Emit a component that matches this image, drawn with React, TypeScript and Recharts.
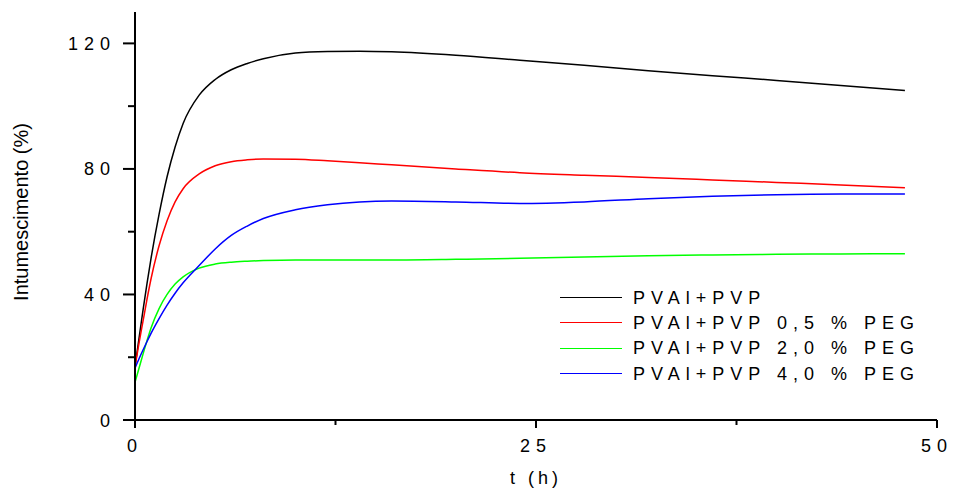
import { LineChart, Line, XAxis, YAxis, Legend } from 'recharts';

const HOURS = [0, 0.25, 0.5, 0.75, 1, 1.5, 2, 2.5, 3, 4, 5, 6, 7, 8, 10, 12, 14, 16, 20, 24, 28, 32, 36, 40, 44, 48];
const PVAL_PVP = [17, 26, 35, 43.5, 51.5, 65.5, 77.5, 87, 94.5, 103.5, 108.5, 111.6, 113.6, 115.1, 116.9, 117.4, 117.5, 117.3, 116.2, 114.6, 113, 111.3, 109.7, 108.2, 106.6, 105];
const PEG_05 = [17, 24.5, 31.5, 38.5, 45, 55.5, 63.5, 69.5, 73.7, 78.4, 81, 82.3, 82.9, 83.2, 83.1, 82.6, 82, 81.3, 80, 78.8, 78, 77.3, 76.5, 75.7, 74.9, 74];
const PEG_20 = [12, 16.5, 21, 25.3, 29.3, 35.5, 40, 43.3, 45.6, 48.4, 49.7, 50.3, 50.6, 50.8, 51, 51, 51, 51, 51.2, 51.5, 51.9, 52.3, 52.6, 52.8, 52.9, 53];
const PEG_40 = [16.5, 19.5, 22.3, 25, 27.6, 32.3, 36.6, 40.4, 43.7, 49.2, 54.5, 58.8, 61.8, 64.2, 67, 68.6, 69.5, 69.8, 69.5, 69, 69.5, 70.5, 71.3, 71.8, 72, 72];

const SERIES = [
  { key: 'pvp', name: 'PVAl+PVP', color: '#000000', values: PVAL_PVP },
  { key: 'peg05', name: 'PVAl+PVP 0,5 % PEG', color: '#ff0000', values: PEG_05 },
  { key: 'peg20', name: 'PVAl+PVP 2,0 % PEG', color: '#00ff00', values: PEG_20 },
  { key: 'peg40', name: 'PVAl+PVP 4,0 % PEG', color: '#0000ff', values: PEG_40 },
];

const X_TICKS = [0, 12.5, 25, 37.5, 50];
const Y_TICKS = [0, 20, 40, 60, 80, 100, 120];

const FONT = '"Liberation Sans", Arial, sans-serif';

const data = HOURS.map((t, i) => {
  const row: Record<string, number> = { t };
  SERIES.forEach(s => { row[s.key] = s.values[i]; });
  return row;
});

const XTick = ({ x, y, payload }: any) => {
  const major = payload.value % 25 === 0;
  return (
    <g>
      <line x1={x} x2={x} y1={y} y2={y + (major ? 8 : 5)} stroke="#000" strokeWidth={2} />
      {major && (
        <text x={x} y={y + 32} textAnchor="middle" fontSize={18} letterSpacing={6} fontFamily={FONT} fill="#000">
          {payload.value}
        </text>
      )}
    </g>
  );
};

const YTick = ({ x, y, payload }: any) => {
  const major = payload.value % 40 === 0;
  return (
    <g>
      <line x1={x - (major ? 12 : 7)} x2={x} y1={y} y2={y} stroke="#000" strokeWidth={2} />
      {major && (
        <text x={x - 19} y={y + 6.5} textAnchor="end" fontSize={18} letterSpacing={6} fontFamily={FONT} fill="#000">
          {payload.value}
        </text>
      )}
    </g>
  );
};

const renderLegend = () => (
  <div style={{ fontFamily: FONT, fontSize: 18, letterSpacing: 6, color: '#000' }}>
    {SERIES.map(s => (
      <div key={s.key} style={{ display: 'flex', alignItems: 'center', height: 25.3, whiteSpace: 'pre' }}>
        <span style={{ display: 'inline-block', width: 62, height: 0, borderTop: `1.5px solid ${s.color}`, marginRight: 11 }} />
        <span style={{ lineHeight: '18px' }}>{s.name}</span>
      </div>
    ))}
  </div>
);

const App = () => (
  <div style={{ position: 'absolute', left: 0, top: 0, width: 953, height: 488, background: '#fff' }}>
    <LineChart width={953} height={488} data={data} margin={{ top: 12, right: 16, left: 0, bottom: 0 }}>
      <XAxis
        dataKey="t"
        type="number"
        domain={[0, 50]}
        ticks={X_TICKS}
        interval={0}
        height={68}
        tickSize={0}
        tickMargin={0}
        tickLine={false}
        tick={<XTick />}
        axisLine={{ stroke: '#000', strokeWidth: 2 }}
        label={({ viewBox }: any) => (
          <text x={viewBox.x + viewBox.width / 2} y={viewBox.y + 64} textAnchor="middle" fontSize={18} letterSpacing={4} fontFamily={FONT} fill="#000">
            t (h)
          </text>
        )}
      />
      <YAxis
        type="number"
        domain={[0, 130]}
        ticks={Y_TICKS}
        interval={0}
        width={135}
        tickSize={0}
        tickMargin={0}
        tickLine={false}
        tick={<YTick />}
        axisLine={{ stroke: '#000', strokeWidth: 2 }}
        label={({ viewBox }: any) => {
          const cx = viewBox.x + 21;
          const cy = viewBox.y + viewBox.height / 2 - 4;
          return (
            <text x={cx} y={cy} transform={`rotate(-90 ${cx} ${cy})`} textAnchor="middle" dominantBaseline="central" fontSize={20} fontFamily={FONT} fill="#000">
              Intumescimento (%)
            </text>
          );
        }}
      />
      <Legend
        layout="vertical"
        align="center"
        verticalAlign="middle"
        content={renderLegend}
        wrapperStyle={{ left: 560, top: 285, width: 'auto', height: 'auto' }}
      />
      {SERIES.map(s => (
        <Line
          key={s.key}
          type="monotone"
          dataKey={s.key}
          name={s.name}
          stroke={s.color}
          strokeWidth={1.5}
          dot={false}
          activeDot={false}
          isAnimationActive={false}
        />
      ))}
    </LineChart>
  </div>
);

export default App;
